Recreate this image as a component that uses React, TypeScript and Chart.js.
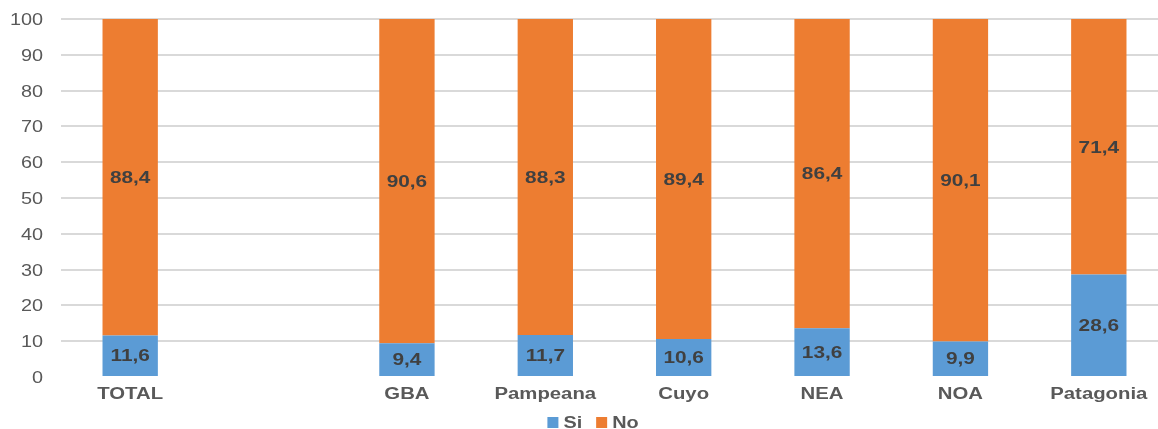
import React, { useEffect, useRef } from "react";
import { Chart, registerables } from "chart.js";

Chart.register(...registerables);

const categories = ["TOTAL", "", "GBA", "Pampeana", "Cuyo", "NEA", "NOA", "Patagonia"];
const siValues = [11.6, null, 9.4, 11.7, 10.6, 13.6, 9.9, 28.6];
const noValues = [88.4, null, 90.6, 88.3, 89.4, 86.4, 90.1, 71.4];
const yTicks = [0, 10, 20, 30, 40, 50, 60, 70, 80, 90, 100];
const seriesNames = ["Si", "No"];
const seriesColors = ["#5B9BD5", "#ED7D31"];

const FONT = "'Liberation Sans', Arial, sans-serif";
const TEXT_GREY = "#595959";

function stretchedText(ctx: CanvasRenderingContext2D, text: string, x: number, y: number, align: CanvasTextAlign, sx: number) {
  ctx.save();
  ctx.translate(x, y);
  ctx.scale(sx, 1);
  ctx.textAlign = align;
  ctx.textBaseline = "alphabetic";
  ctx.fillText(text, 0, 0);
  ctx.restore();
}

const textPlugin = {
  id: "excelText",
  afterDatasetsDraw(chart: any) {
    const ctx: CanvasRenderingContext2D = chart.ctx;
    const xScale = chart.scales.x;
    const yScale = chart.scales.y;
    ctx.save();

    // data labels
    ctx.font = `bold 16px ${FONT}`;
    ctx.fillStyle = "#404040";
    chart.data.datasets.forEach((ds: any, i: number) => {
      const meta = chart.getDatasetMeta(i);
      meta.data.forEach((bar: any, j: number) => {
        const v = ds.data[j];
        if (v == null) return;
        const yc = (bar.y + bar.base) / 2;
        stretchedText(ctx, v.toFixed(1).replace(".", ","), bar.x, yc + 5.7, "center", 1.3);
      });
    });

    // y tick labels
    ctx.font = `16px ${FONT}`;
    ctx.fillStyle = TEXT_GREY;
    yTicks.forEach((t) => {
      const y = yScale.getPixelForValue(t);
      stretchedText(ctx, String(t), yScale.right - 18, y + 6, "right", 1.24);
    });

    // x category labels
    ctx.font = `bold 16px ${FONT}`;
    ctx.fillStyle = TEXT_GREY;
    categories.forEach((c, i) => {
      if (!c) return;
      const x = xScale.getPixelForValue(i);
      stretchedText(ctx, c, x, yScale.bottom + 22, "center", 1.27);
    });

    // legend
    const sx = 1.24;
    const box = 11;
    const gapBoxText = 5;
    const gapItems = 14;
    const widths = seriesNames.map((n) => ctx.measureText(n).width * sx);
    let total = 0;
    widths.forEach((w, i) => {
      total += box + gapBoxText + w + (i < widths.length - 1 ? gapItems : 0);
    });
    let x = chart.width / 2 + 5 - total / 2;
    const baseY = 428;
    seriesNames.forEach((n, i) => {
      ctx.fillStyle = seriesColors[i];
      ctx.fillRect(x, baseY - 11, box, box);
      x += box + gapBoxText;
      ctx.fillStyle = TEXT_GREY;
      stretchedText(ctx, n, x, baseY, "left", sx);
      x += widths[i] + gapItems;
    });

    ctx.restore();
  },
};

export default function App() {
  const ref = useRef<HTMLCanvasElement>(null);
  useEffect(() => {
    if (!ref.current) return;
    const chart = new Chart(ref.current, {
      type: "bar",
      data: {
        labels: categories,
        datasets: [
          { label: seriesNames[0], data: siValues, backgroundColor: seriesColors[0] },
          { label: seriesNames[1], data: noValues, backgroundColor: seriesColors[1] },
        ],
      },
      options: {
        animation: false,
        responsive: true,
        maintainAspectRatio: false,
        datasets: { bar: { categoryPercentage: 1, barPercentage: 0.4 } },
        layout: { padding: { top: 19, right: 8, left: 0, bottom: 52 } },
        scales: {
          x: {
            stacked: true,
            grid: { display: false },
            border: { display: false },
            ticks: { display: false },
            afterFit: (scale: any) => {
              scale.height = 0;
            },
          },
          y: {
            stacked: true,
            min: 0,
            max: 100,
            grid: {
              color: (c: any) => (c.tick && c.tick.value === 0 ? "rgba(0,0,0,0)" : "#d9d9d9"),
              lineWidth: 2,
              drawTicks: false,
            },
            border: { display: false },
            ticks: { stepSize: 10, display: false },
            afterFit: (scale: any) => {
              scale.width = 61;
            },
          },
        },
        plugins: {
          legend: { display: false },
          tooltip: { enabled: false },
        },
      },
      plugins: [textPlugin],
    });
    return () => chart.destroy();
  }, []);
  return (
    <div style={{ position: "absolute", left: 0, top: 0, width: 1158, height: 429, overflow: "hidden" }}>
      <div style={{ position: "relative", width: 1176, height: 429 }}>
        <canvas ref={ref} />
      </div>
    </div>
  );
}
